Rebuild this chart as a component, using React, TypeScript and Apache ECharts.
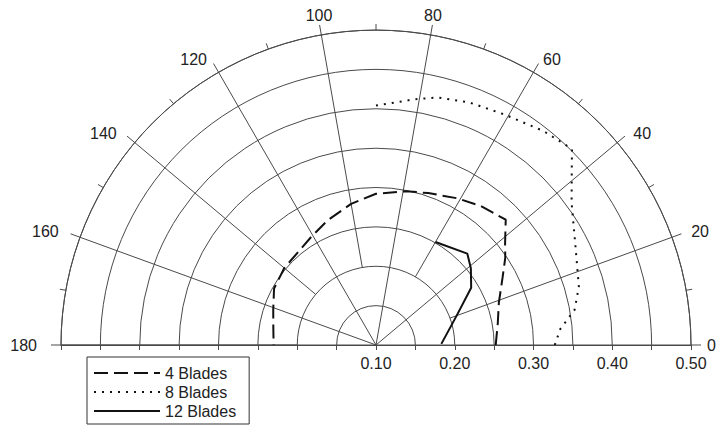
import React, { useEffect, useRef } from 'react';
import * as echarts from 'echarts';

// ---- data (radius value, angle in degrees) ----
const seriesNames = ['4 Blades', '8 Blades', '12 Blades'];

const blades4Angles = [0, 10, 19, 28, 34, 38, 44, 53, 61, 71, 79, 90, 100, 111, 121, 140, 151, 161, 171, 180];
const blades4Values = [0.252, 0.257, 0.265, 0.282, 0.298, 0.308, 0.329, 0.321, 0.313, 0.304, 0.299, 0.292, 0.282, 0.27, 0.26, 0.252, 0.248, 0.238, 0.232, 0.23];

const blades8Angles = [0, 5, 10, 16, 26, 36, 43, 45, 52, 61, 69, 76, 81, 90];
const blades8Values = [0.327, 0.335, 0.356, 0.368, 0.382, 0.407, 0.44, 0.452, 0.445, 0.435, 0.43, 0.424, 0.416, 0.404];

const blades12Angles = [1, 20, 31, 39, 45, 60];
const blades12Values = [0.183, 0.209, 0.241, 0.255, 0.264, 0.251];

const radialTickLabels = ['0.10', '0.20', '0.30', '0.40', '0.50'];
const angleTickLabels = ['0', '20', '40', '60', '80', '100', '120', '140', '160', '180'];

const CX = 376;
const CY = 345;
const R = 315;
const FONT = "'Liberation Sans', Arial, sans-serif";
const GRID_COLOR = '#4a4a4a';
const TEXT_COLOR = '#222';
const LINE_COLOR = '#111';

function pairs(angles: number[], values: number[]) {
  return angles.map((a, i) => [values[i], a]);
}

// per-label text styles for the angle labels (placement tweaks only)
const labelBase = { fontSize: 16, color: TEXT_COLOR, fontFamily: FONT };
const angleRich: Record<string, any> = {
  a0: { ...labelBase, lineHeight: 2, padding: [0, 0, 0, 3] },
  a20: { ...labelBase, lineHeight: 2, padding: [0, 0, 0, 7] },
  a40: { ...labelBase, lineHeight: 2, padding: [0, 0, 0, 6] },
  a60: { ...labelBase, lineHeight: 2, padding: [0, 0, 0, 3] },
  a80: { ...labelBase, lineHeight: 12 },
  a100: { ...labelBase, lineHeight: 12 },
  a120: { ...labelBase, lineHeight: 2, padding: [0, 5, 0, 0] },
  a140: { ...labelBase, lineHeight: 2, padding: [0, 8, 0, 0] },
  a160: { ...labelBase, lineHeight: 2, padding: [0, 9, 0, 0] },
  a180: { ...labelBase, lineHeight: 2, padding: [0, 11, 0, 0] },
};

export default function App() {
  const ref = useRef<HTMLDivElement>(null);
  useEffect(() => {
    if (!ref.current) return;
    const chart = echarts.init(ref.current, undefined, { renderer: 'svg' });
    const gridLine = { color: GRID_COLOR, width: 1 };
    const hiddenRadius = (idx: number) => ({
      polarIndex: idx,
      type: 'value',
      min: 0.1,
      max: 0.5,
      interval: 0.05,
      axisLine: { show: false },
      axisTick: { show: false },
      axisLabel: { show: false },
      splitLine: { show: false },
    });
    chart.setOption({
      animation: false,
      backgroundColor: '#fff',
      textStyle: { fontFamily: FONT },
      polar: [
        { center: [CX, CY], radius: R },
        { center: [CX, CY], radius: R },
        { center: [CX, CY], radius: [R * 0.25, R] },
      ],
      angleAxis: [
        {
          polarIndex: 0,
          type: 'value',
          min: 0,
          max: 180,
          interval: 20,
          startAngle: 0,
          endAngle: 180,
          clockwise: false,
          axisLine: { show: true, lineStyle: gridLine },
          axisTick: { show: true, length: 10, lineStyle: gridLine },
          minorTick: { show: true, splitNumber: 2, length: 6, lineStyle: gridLine },
          axisLabel: {
            show: true,
            margin: 13,
            fontSize: 16,
            color: TEXT_COLOR,
            fontFamily: FONT,
            formatter: (v: number) => {
              const s = String(Math.round(v));
              return angleTickLabels.includes(s) ? `{a${s}|${s}}` : '';
            },
            rich: angleRich,
          },
          splitLine: { show: false },
        },
        {
          polarIndex: 1,
          type: 'value',
          min: 0,
          max: 180,
          interval: 40,
          startAngle: 0,
          endAngle: 180,
          clockwise: false,
          axisLine: { show: false },
          axisTick: { show: false },
          axisLabel: { show: false },
          splitLine: { show: true, lineStyle: gridLine },
        },
        {
          polarIndex: 2,
          type: 'value',
          min: 0,
          max: 160,
          interval: 40,
          startAngle: 20,
          endAngle: 180,
          clockwise: false,
          axisLine: { show: false },
          axisTick: { show: false },
          axisLabel: { show: false },
          splitLine: { show: true, lineStyle: gridLine },
        },
      ],
      radiusAxis: [
        {
          polarIndex: 0,
          type: 'value',
          min: 0.1,
          max: 0.5,
          interval: 0.05,
          axisLine: { show: false },
          axisTick: { show: false },
          axisLabel: { show: false },
          splitLine: { show: true, lineStyle: gridLine },
        },
        hiddenRadius(1),
        hiddenRadius(2),
      ],
      grid: [
        { left: CX, top: CY - 1, width: R, height: 1, show: false },
        { left: CX - R, top: CY - 1, width: R, height: 1, show: false },
      ],
      xAxis: [
        {
          gridIndex: 0,
          type: 'value',
          min: 0.1,
          max: 0.5,
          interval: 0.05,
          position: 'bottom',
          axisLine: { show: true, lineStyle: gridLine },
          axisTick: { show: true, length: 5, lineStyle: gridLine },
          axisLabel: {
            show: true,
            margin: 10,
            fontSize: 16,
            color: TEXT_COLOR,
            fontFamily: FONT,
            formatter: (v: number) => {
              const s = v.toFixed(2);
              return radialTickLabels.includes(s) ? s : '';
            },
          },
          splitLine: { show: false },
        },
        {
          gridIndex: 1,
          type: 'value',
          min: 0.1,
          max: 0.5,
          interval: 0.05,
          inverse: true,
          position: 'bottom',
          axisLine: { show: true, lineStyle: gridLine },
          axisTick: { show: true, length: 5, lineStyle: gridLine },
          axisLabel: { show: false },
          splitLine: { show: false },
        },
      ],
      yAxis: [
        { gridIndex: 0, type: 'value', show: false },
        { gridIndex: 1, type: 'value', show: false },
      ],
      legend: {
        orient: 'vertical',
        left: 87,
        top: 357,
        height: 200,
        padding: [8, 13, 5, 6],
        itemWidth: 66,
        itemHeight: 14,
        itemGap: 3,
        borderColor: '#333',
        borderWidth: 1,
        backgroundColor: '#fff',
        itemStyle: { color: 'transparent', borderWidth: 0, opacity: 0 },
        textStyle: { fontSize: 16, color: TEXT_COLOR, fontFamily: FONT },
        data: seriesNames,
      },
      series: [
        {
          name: seriesNames[0],
          type: 'line',
          coordinateSystem: 'polar',
          polarIndex: 0,
          symbol: 'none',
          lineStyle: { color: LINE_COLOR, width: 2, type: [14, 6] },
          itemStyle: { color: LINE_COLOR },
          data: pairs(blades4Angles, blades4Values),
          z: 5,
        },
        {
          name: seriesNames[1],
          type: 'line',
          coordinateSystem: 'polar',
          polarIndex: 0,
          symbol: 'none',
          lineStyle: { color: LINE_COLOR, width: 2, type: [2, 6] },
          itemStyle: { color: LINE_COLOR },
          data: pairs(blades8Angles, blades8Values),
          z: 5,
        },
        {
          name: seriesNames[2],
          type: 'line',
          coordinateSystem: 'polar',
          polarIndex: 0,
          symbol: 'none',
          lineStyle: { color: LINE_COLOR, width: 2, type: 'solid' },
          itemStyle: { color: LINE_COLOR },
          data: pairs(blades12Angles, blades12Values),
          z: 5,
        },
      ],
    });
    return () => chart.dispose();
  }, []);
  return (
    <div
      ref={ref}
      style={{ position: 'absolute', left: 0, top: 0, width: 717, height: 428 }}
    />
  );
}
